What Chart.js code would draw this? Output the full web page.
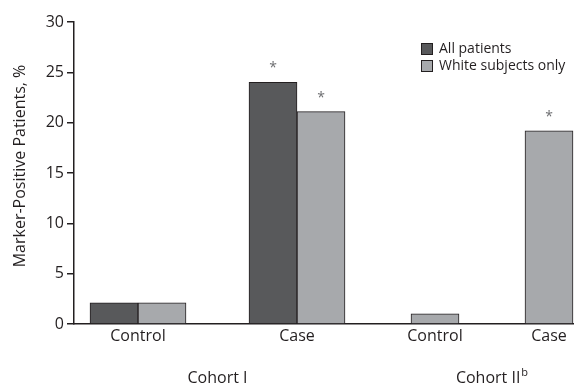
<!DOCTYPE html>
<html>
<head>
<meta charset="utf-8">
<script src="https://cdn.jsdelivr.net/npm/chart.js@4"></script>
<style>
  html, body { margin: 0; padding: 0; background: #fff; }
  #wrap { width: 574px; height: 386px; position: relative; }
</style>
</head>
<body>
<div id="wrap"><canvas id="chart"></canvas></div>
<script>
// Chart data
const categories = ['Control', 'Case', 'Control', 'Case'];
const cohorts = ['Cohort I', 'Cohort II'];
const cohortOf = [0, 0, 1, 1];
const allPatients = [2.1, 24.0, null, null];
const whiteOnly = [2.1, 21.1, 1.0, 19.2];
const sigAll = [false, true, false, false];
const sigWhite = [false, true, false, true];
const yTicks = [0, 5, 10, 15, 20, 25, 30];
const yTitle = 'Marker-Positive Patients, %';

// Layout: group centres along a 0-500 linear x scale (groups are unevenly spaced)
const slotX = [64, 223, 361, 475];

const FONT = '"Open Sans", "Noto Sans", sans-serif';
const INK = '#231f20';

const toPoints = arr => arr.map((v, i) => ({ x: slotX[i], y: v }));

// Draws asterisks, axis title, cohort labels and the legend box
const annotations = {
  id: 'annotations',
  afterDatasetsDraw(chart) {
    const { ctx, scales, chartArea } = chart;
    ctx.save();

    // significance asterisks
    ctx.fillStyle = '#6d6e71';
    ctx.font = '14px ' + FONT;
    ctx.textAlign = 'center';
    ctx.textBaseline = 'middle';
    [sigAll, sigWhite].forEach((flags, di) => {
      const meta = chart.getDatasetMeta(di);
      flags.forEach((on, i) => {
        if (!on || !meta.data[i]) return;
        const bar = meta.data[i];
        ctx.fillText('*', bar.x, bar.y - 14);
      });
    });

    // y axis title
    ctx.fillStyle = INK;
    ctx.font = '16px ' + FONT;
    ctx.save();
    ctx.translate(20, (chartArea.top + chartArea.bottom) / 2 - 7);
    ctx.rotate(-Math.PI / 2);
    ctx.fillText(yTitle, 0, 0);
    ctx.restore();

    // cohort labels below the category ticks
    ctx.textBaseline = 'alphabetic';
    const y = 383;
    cohorts.forEach((name, c) => {
      const idx = cohortOf.map((g, i) => g === c ? i : -1).filter(i => i >= 0);
      const xs = idx.map(i => scales.x.getPixelForValue(slotX[i]));
      const cx = (Math.min(...xs) + Math.max(...xs)) / 2;
      ctx.font = '16px ' + FONT;
      if (c === 1) {
        const w = ctx.measureText(name).width;
        ctx.font = '11px ' + FONT;
        const ws = ctx.measureText('b').width;
        const x0 = cx - (w + ws + 1) / 2;
        ctx.textAlign = 'left';
        ctx.font = '16px ' + FONT;
        ctx.fillText(name, x0, y);
        ctx.font = '11px ' + FONT;
        ctx.fillText('b', x0 + w + 1, y - 7);
      } else {
        ctx.textAlign = 'center';
        ctx.fillText(name, cx, y);
      }
    });

    // legend
    ctx.font = '14px ' + FONT;
    ctx.textAlign = 'left';
    ctx.textBaseline = 'middle';
    chart.data.datasets.forEach((ds, i) => {
      const ly = 49 + i * 17;
      ctx.fillStyle = ds.backgroundColor;
      ctx.fillRect(421.5, ly - 5.5, 11, 11);
      ctx.strokeStyle = INK;
      ctx.lineWidth = 1;
      ctx.strokeRect(421.5, ly - 5.5, 11, 11);
      ctx.fillStyle = INK;
      ctx.fillText(ds.label, 439, ly);
    });

    ctx.restore();
  }
};

new Chart(document.getElementById('chart'), {
  type: 'bar',
  data: {
    datasets: [
      {
        label: 'All patients',
        data: toPoints(allPatients),
        backgroundColor: '#58595b',
        borderColor: INK,
        borderWidth: 1
      },
      {
        label: 'White subjects only',
        data: toPoints(whiteOnly),
        backgroundColor: '#a7a9ac',
        borderColor: INK,
        borderWidth: 1
      }
    ]
  },
  options: {
    responsive: true,
    maintainAspectRatio: false,
    animation: false,
    skipNull: true,
    barThickness: 48,
    layout: { padding: { top: 22, right: 0, left: 0, bottom: 0 } },
    plugins: {
      legend: { display: false },
      tooltip: { enabled: false }
    },
    scales: {
      x: {
        type: 'linear',
        min: 0,
        max: 500,
        offset: false,
        afterBuildTicks: s => { s.ticks = slotX.map(v => ({ value: v })); },
        afterFit: s => { s.height = 62; },
        grid: { display: false, drawTicks: false },
        border: { color: INK, width: 1.5 },
        ticks: {
          color: INK,
          font: { family: FONT, size: 16 },
          padding: 3,
          maxRotation: 0,
          autoSkip: false,
          callback: (v, i) => categories[i]
        }
      },
      y: {
        min: 0,
        max: 30,
        afterBuildTicks: s => { s.ticks = yTicks.map(v => ({ value: v })); },
        afterFit: s => { s.width = 74; },
        grid: { drawOnChartArea: false, drawTicks: true, tickLength: 7, color: INK, lineWidth: 1.5 },
        border: { color: INK, width: 1.5 },
        ticks: {
          color: INK,
          font: { family: FONT, size: 16 },
          padding: 3
        }
      }
    }
  },
  plugins: [annotations]
});
</script>
</body>
</html>
